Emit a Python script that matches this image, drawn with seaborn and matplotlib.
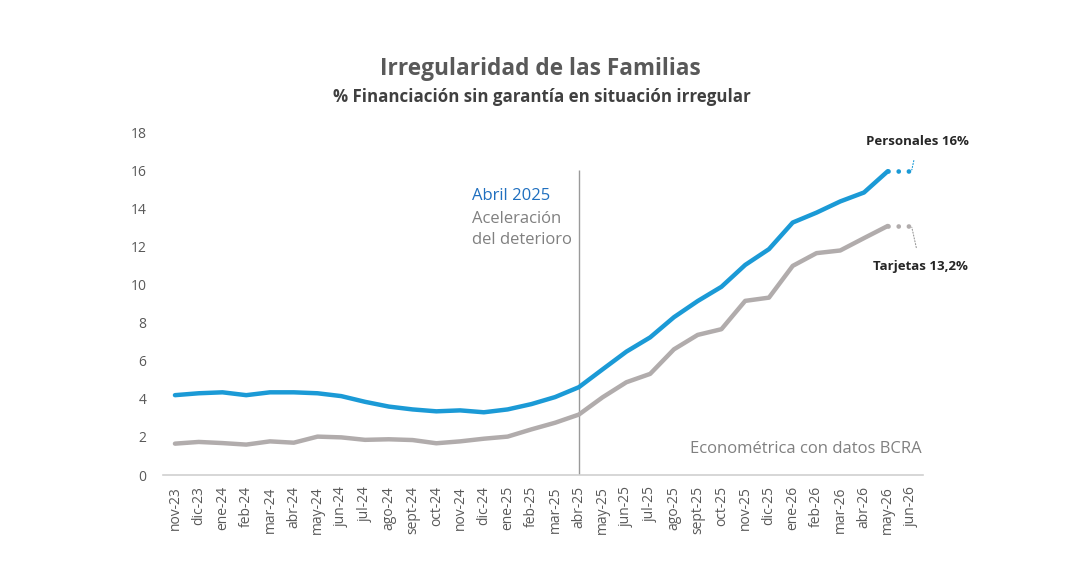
import numpy as np
import pandas as pd
import matplotlib
matplotlib.use("Agg")
import matplotlib.pyplot as plt
import seaborn as sns

months = ["nov-23", "dic-23", "ene-24", "feb-24", "mar-24", "abr-24", "may-24", "jun-24",
          "jul-24", "ago-24", "sept-24", "oct-24", "nov-24", "dic-24", "ene-25", "feb-25",
          "mar-25", "abr-25", "may-25", "jun-25", "jul-25", "ago-25", "sept-25", "oct-25",
          "nov-25", "dic-25", "ene-26", "feb-26", "mar-26", "abr-26", "may-26", "jun-26"]

personales = [4.2, 4.3, 4.35, 4.2, 4.35, 4.35, 4.3, 4.15, 3.85, 3.6, 3.45, 3.35, 3.4, 3.3,
              3.45, 3.73, 4.1, 4.62, 5.56, 6.49, 7.24, 8.3, 9.15, 9.9, 11.05, 11.88,
              13.28, 13.8, 14.39, 14.86, 15.98]
tarjetas = [1.65, 1.74, 1.68, 1.6, 1.77, 1.7, 2.02, 1.98, 1.85, 1.88, 1.84, 1.67, 1.77, 1.91,
            2.02, 2.4, 2.75, 3.18, 4.09, 4.88, 5.32, 6.61, 7.37, 7.67, 9.16, 9.33, 11.0,
            11.67, 11.81, 12.46, 13.1]

series_names = ["Personales", "Tarjetas"]
label_texts = ["Personales 16%", "Tarjetas 13,2%"]
colors = {"Personales": "#1b9ad6", "Tarjetas": "#b1acac"}
y_ticks = [0, 2, 4, 6, 8, 10, 12, 14, 16, 18]
event_month = "abr-25"

sns.set_theme(style="white")
plt.rcParams["font.family"] = ["Open Sans", "DejaVu Sans"]

idx = {m: i for i, m in enumerate(months)}
df = pd.concat([
    pd.DataFrame({"x": range(len(personales)), "valor": personales, "serie": "Personales"}),
    pd.DataFrame({"x": range(len(tarjetas)), "valor": tarjetas, "serie": "Tarjetas"}),
])

fig = plt.figure(figsize=(10.8, 5.85), dpi=100)
ax = fig.add_axes([0.151, 0.188, 0.704, 0.585])

sns.lineplot(data=df, x="x", y="valor", hue="serie", palette=colors, lw=3.2,
             legend=False, ax=ax, zorder=3, solid_capstyle="round")

# dotted extension to last month
last = len(personales) - 1
for vals, name in [(personales, "Personales"), (tarjetas, "Tarjetas")]:
    ext = pd.DataFrame({"x": [last, last + 1], "valor": [vals[-1], vals[-1]]})
    sns.lineplot(data=ext, x="x", y="valor", color=colors[name], lw=3.4,
                 linestyle=(0, (0.01, 2.15)), dash_capstyle="round", ax=ax, zorder=3)

# vertical event line
ax.vlines(idx[event_month], 0, 16.05, color="#9a9a9a", lw=1.0, zorder=2)
ax.text(idx[event_month] - 4.5, 14.65, "Abril 2025", color="#1f6fbf", fontsize=12,
        ha="left", va="center")
ax.text(idx[event_month] - 4.5, 13.45, "Aceleración", color="#808080",
        fontsize=12, ha="left", va="center")
ax.text(idx[event_month] - 4.5, 12.35, "del deterioro", color="#808080",
        fontsize=12, ha="left", va="center")

# labels with leader lines
ax.annotate(label_texts[0], xy=(last + 1.0, personales[-1]), xytext=(last + 1.27, 17.55),
            ha="center", va="center", fontsize=9.5, fontweight="bold", color="#262626",
            arrowprops=dict(arrowstyle="-", color=colors["Personales"], lw=0.8,
                            linestyle=":", shrinkA=7, shrinkB=1), annotation_clip=False)
ax.annotate(label_texts[1], xy=(last + 1.0, tarjetas[-1]), xytext=(last + 1.38, 10.95),
            ha="center", va="center", fontsize=9.5, fontweight="bold", color="#262626",
            arrowprops=dict(arrowstyle="-", color="#9a9a9a", lw=0.8,
                            linestyle=":", shrinkA=7, shrinkB=1), annotation_clip=False)

ax.text(0.998, 0.075, "Econométrica con datos BCRA", transform=ax.transAxes, ha="right",
        va="center", fontsize=12, color="#808080")

ax.set_xlim(-0.5, len(months) - 0.5)
ax.set_ylim(0, 18)
ax.set_yticks(y_ticks)
ax.set_yticklabels([str(v) for v in y_ticks], fontsize=10, color="#595959")
ax.set_xticks(range(len(months)))
ax.set_xticklabels(months, rotation=90, fontsize=10, color="#595959")
ax.set_xticks(np.arange(-0.5, len(months), 1.0), minor=True)
ax.tick_params(axis="x", which="major", length=0, pad=8)
ax.tick_params(axis="x", which="minor", length=5, color="#d0d0d0", width=1, direction="out")
ax.tick_params(axis="y", length=0, pad=12)
for s in ["left", "right", "top"]:
    ax.spines[s].set_visible(False)
ax.spines["bottom"].set_color("#d0d0d0")
ax.spines["bottom"].set_linewidth(1.2)
ax.set_xlabel("")
ax.set_ylabel("")

fig.text(0.5, 0.882, "Irregularidad de las Familias", ha="center", va="center",
         fontsize=16.3, fontweight="bold", color="#595959")
fig.text(0.502, 0.834, "% Financiación sin garantía en situación irregular", ha="center",
         va="center", fontsize=12.2, fontweight="bold", color="#404040")

fig.savefig("out.png", dpi=100, facecolor="white")
